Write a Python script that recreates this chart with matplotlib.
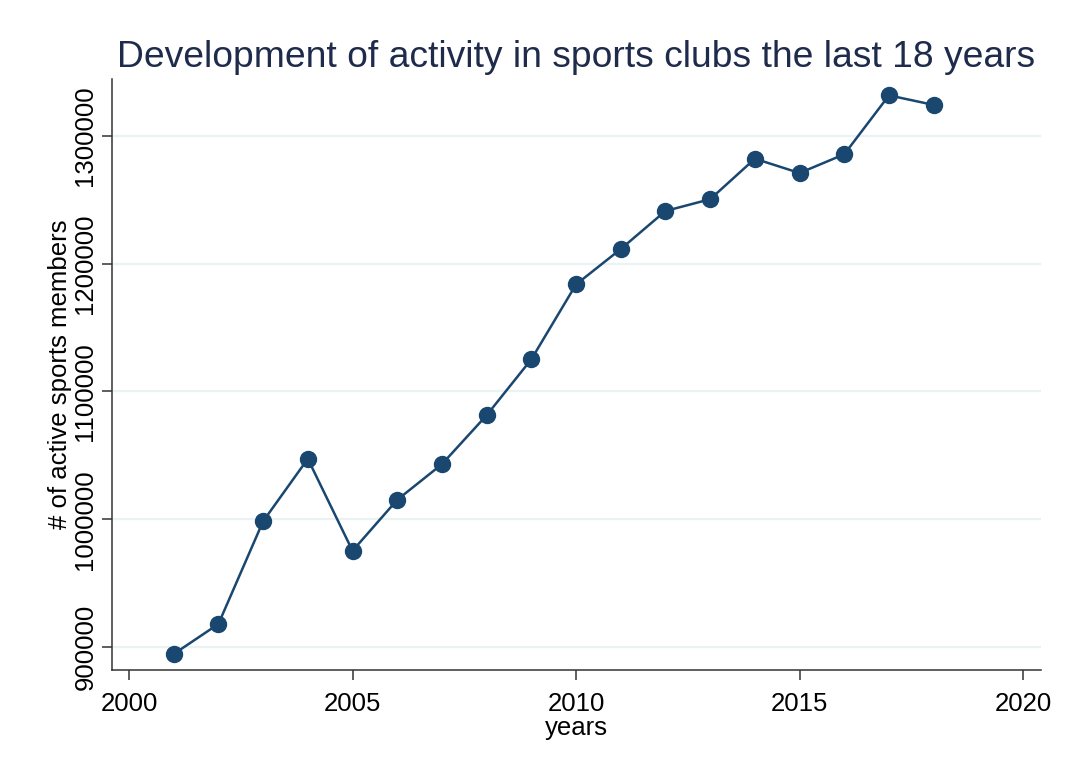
import matplotlib
matplotlib.use("Agg")
import matplotlib.pyplot as plt

years = [2001, 2002, 2003, 2004, 2005, 2006, 2007, 2008, 2009,
         2010, 2011, 2012, 2013, 2014, 2015, 2016, 2017, 2018]
members = [894500, 918000, 998400, 1047300, 975300, 1015200, 1043100, 1081400, 1125200,
           1183800, 1211500, 1241300, 1250500, 1282200, 1271000, 1285700, 1331800, 1324300]
x_ticks = [2000, 2005, 2010, 2015, 2020]
y_ticks = [900000, 1000000, 1100000, 1200000, 1300000]

plt.rcParams['font.family'] = ['Liberation Sans', 'DejaVu Sans']

fig = plt.figure(figsize=(10.73, 7.73), dpi=100)
ax = fig.add_axes([112/1073, 1 - 670/773, (1041 - 112)/1073, (670 - 79)/773])

line_col = '#1a476f'
ax.plot(years, members, color=line_col, lw=1.8, marker='o', markersize=11.5,
        markerfacecolor=line_col, markeredgecolor=line_col, zorder=3)

ax.set_xlim(1999.62, 2020.4)
ax.set_ylim(882000, 1344600)
ax.set_xticks(x_ticks)
ax.set_yticks(y_ticks)
ax.set_yticklabels([str(v) for v in y_ticks], rotation=90, va='center')
ax.tick_params(axis='both', labelsize=18.5, length=7.5, width=1.1, color='#333333', labelcolor='black')
ax.tick_params(axis='y', pad=3)
ax.tick_params(axis='x', pad=8)

ax.grid(axis='y', color='#eaf2f3', lw=1.6)
ax.set_axisbelow(True)
for s in ['top', 'right']:
    ax.spines[s].set_visible(False)
for s in ['left', 'bottom']:
    ax.spines[s].set_linewidth(1.1)
    ax.spines[s].set_color('#333333')

ax.set_xlabel('years', fontsize=18.5, labelpad=0)
ax.set_ylabel('# of active sports members', fontsize=18.5, labelpad=1)
fig.text(0.537, 0.926, 'Development of activity in sports clubs the last 18 years',
         ha='center', va='center', fontsize=26.8, color='#1e2b4b')

fig.savefig('out.png', dpi=100, facecolor='white')
